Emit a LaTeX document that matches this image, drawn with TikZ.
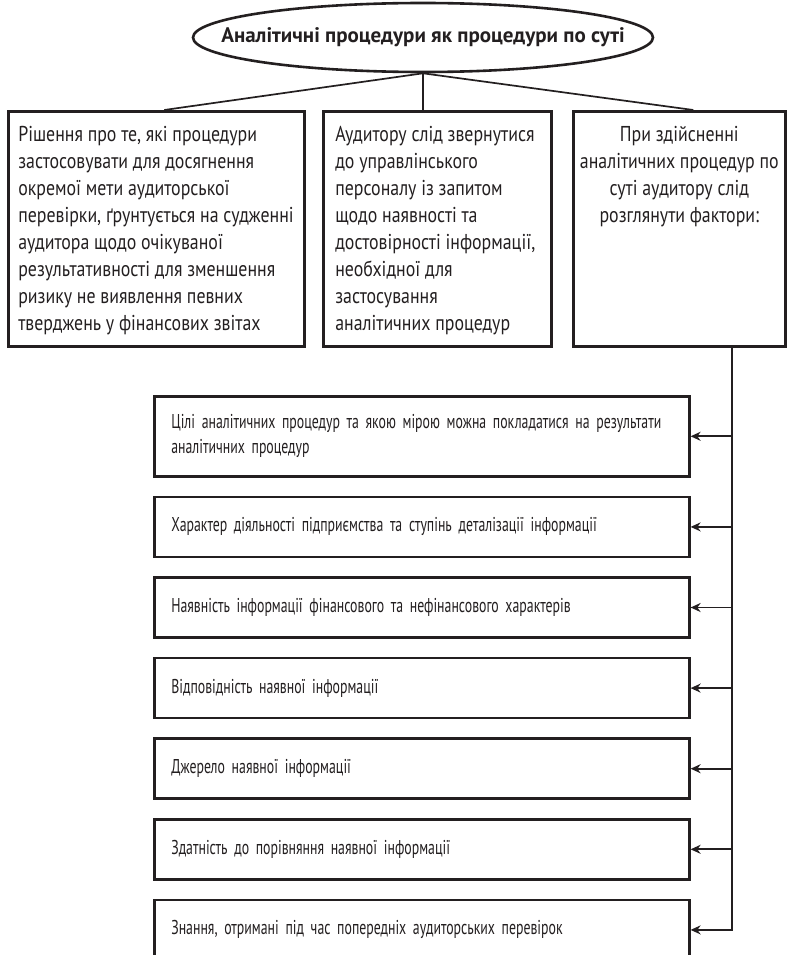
\documentclass[tikz,border=0pt]{standalone}
\usepackage{fontspec}
\setmainfont{PT Sans}[FakeStretch=0.83]
\newfontfamily\headfont{PT Sans}
\newfontfamily\listfont{PT Sans}[FakeStretch=0.69, WordSpace=0.8]
\usetikzlibrary{arrows.meta,positioning,calc,shapes.geometric}
\definecolor{ink}{HTML}{231F20}
\newcommand{\cellfont}{\fontsize{21.5}{27}\selectfont}
% fixed-size frame, text hung from the top
\newcommand{\topcell}[2]{\parbox[t][235pt][t]{#1}{\vspace*{11pt}#2}}
\newcommand{\lines}[1]{\begin{tabular}{@{}l@{}}#1\end{tabular}}
\tikzset{
  box/.style={draw=ink, line width=2.6pt, text=ink, font=\cellfont},
  topbox/.style={box, anchor=north west, inner sep=0pt},
  factor/.style={box, font=\listfont\fontsize{20}{25}\selectfont, text width=501pt, inner xsep=17pt, inner ysep=0pt, minimum height=60pt},
  link/.style={draw=ink, line width=1.7pt},
  arr/.style={link, -{Stealth[length=10pt, width=9pt]}},
}

\begin{document}
\begin{tikzpicture}[x=1pt, y=-1pt]
  \useasboundingbox (0,0) rectangle (790,955);
  \node[box, ellipse, inner sep=0pt, minimum width=460pt, minimum height=69pt] (title) at (423,37.5)
    {\makebox[0pt]{\headfont\bfseries\fontsize{21}{25}\selectfont Аналітичні процедури як процедури по суті}};

  \node[topbox] (decision) at (7,110) {\topcell{296pt}{\hspace*{10pt}\begin{tabular}[t]{@{}l@{}}
    Рішення про те, які процедури\\
    застосовувати для досягнення\\
    окремої мети аудиторської\\
    перевірки, ґрунтується на судженні\\
    аудитора щодо очікуваної\\
    результативності для зменшення\\
    ризику не виявлення певних\\
    тверджень у фінансових звітах\end{tabular}}};
  \node[topbox] (request) at (322,110) {\topcell{228pt}{\hspace*{12pt}\begin{tabular}[t]{@{}l@{}}
    Аудитору слід звернутися\\
    до управлінського\\
    персоналу із запитом\\
    щодо наявності та\\
    достовірності інформації,\\
    необхідної для\\
    застосування\\
    аналітичних процедур\end{tabular}}};
  \node[topbox] (factors) at (572,110) {\topcell{212pt}{\centering\begin{tabular}[t]{@{}c@{}}
    При здійсненні\\
    аналітичних процедур по\\
    суті аудитору слід\\
    розглянути фактори:\end{tabular}}};

  \draw[link] (title.south) -- (title.south |- request.north);
  \draw[link] (title.south) -- ($(decision.north)+(8,0)$);
  \draw[link] (title.south) -- ($(factors.north)+(14,0)$);

  % factors list
  \node[factor, anchor=north west, minimum height=80pt] (f1) at (153,395)
    {\lines{Цілі аналітичних процедур та якою мірою можна покладатися на результати\\аналітичних процедур}};
  \node[factor, below=18pt of f1] (f2) {\lines{Характер діяльності підприємства та ступінь деталізації інформації}};
  \node[factor, below=18pt of f2] (f3) {\lines{Наявність інформації фінансового та нефінансового характерів}};
  \node[factor, below=18pt of f3] (f4) {\lines{Відповідність наявної інформації}};
  \node[factor, below=18pt of f4] (f5) {\lines{Джерело наявної інформації}};
  \node[factor, below=18pt of f5] (f6) {\lines{Здатність до порівняння наявної інформації}};
  \node[factor, below=18pt of f6] (f7) {\lines{Знання, отримані під час попередніх аудиторських перевірок}};

  \coordinate (trunk) at (732,0);
  \draw[arr] (factors.south -| trunk) |- (f7.east);
  \draw[arr] (f1.east -| trunk) -- (f1.east); \draw[arr] (f2.east -| trunk) -- (f2.east);
  \draw[arr] (f3.east -| trunk) -- (f3.east); \draw[arr] (f4.east -| trunk) -- (f4.east);
  \draw[arr] (f5.east -| trunk) -- (f5.east); \draw[arr] (f6.east -| trunk) -- (f6.east);
\end{tikzpicture}
\end{document}
